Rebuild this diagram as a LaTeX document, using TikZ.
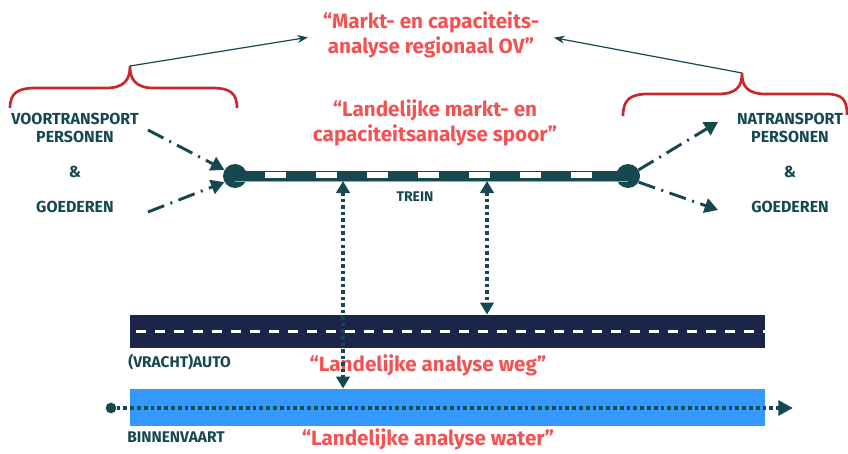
\documentclass[tikz,border=0pt]{standalone}
\usepackage{fontspec}
\setmainfont{Fira Sans}
\usetikzlibrary{arrows.meta,positioning}

\definecolor{cTeal}{RGB}{22,72,80}
\definecolor{cQuote}{RGB}{244,82,82}
\definecolor{cBrace}{RGB}{200,40,45}
\definecolor{cRoad}{RGB}{27,36,73}
\definecolor{cWater}{RGB}{51,153,255}
\definecolor{cRail}{RGB}{140,175,182}

\begin{document}
\begin{tikzpicture}[x=0.75pt,y=-0.75pt,
    lbl/.style={font={\bfseries\fontsize{12}{13}\selectfont},text=cTeal,align=center,inner sep=0pt},
    small/.style={lbl,font={\bfseries\fontsize{11.6}{13}\selectfont},anchor=west},
    quote/.style={font={\bfseries\fontsize{15.5}{19}\selectfont},text=cQuote,align=center,inner sep=0pt},
    brace/.style={cBrace,line width=2pt},
    pointer/.style={cTeal,line width=0.9pt,-{Stealth[length=8pt,width=6pt]},shorten >=11pt},
    flow/.style={cTeal,line width=2.2pt,dash pattern=on 13pt off 5pt on 1.5pt off 5pt,
        -{Triangle[length=10pt,width=11pt]}},
    link/.style={cTeal,line width=2.8pt,dash pattern=on 2.6pt off 2.3pt,
        {Triangle[length=9pt,width=10pt]}-{Triangle[length=9pt,width=10pt]}},
    stop/.style={circle,fill=cTeal,minimum size=18pt,inner sep=0pt},
    lane/.style={rectangle,minimum width=476pt,inner sep=0pt}]
\useasboundingbox (0,0) rectangle (848,453);

% titles
\node[quote] (regio) at (431,35) {“Markt- en capaciteits-\\analyse regionaal OV”};
\node[quote] (spoor) at (435,123) {“Landelijke markt- en\\capaciteitsanalyse spoor”};

% braces
\draw[brace] (10,108) .. controls (10,93) and (18,88) .. (35,88) -- (106,88)
    .. controls (124,88) and (130,80) .. (130,66) coordinate (ltip)
    .. controls (130,80) and (136,88) .. (154,88) -- (212,88)
    .. controls (230,88) and (237,93) .. (237,108);
\draw[brace] (623,116) .. controls (623,100) and (630,94) .. (648,94) -- (718,94)
    .. controls (736,94) and (742,87) .. (742,73) coordinate (rtip)
    .. controls (742,87) and (748,94) .. (766,94) -- (826,94)
    .. controls (843,94) and (847,100) .. (847,115);
\draw[pointer] (ltip) -- (regio.west);
\draw[pointer] (rtip) -- (regio.east);

% voor- en natransport
\node[lbl] (voor) at (75,128) {VOORTRANSPORT\\PERSONEN};
\node[lbl] (vamp) at (75,172) {\&};
\node[lbl] (vgoed) at (75,207) {GOEDEREN};
\node[lbl] (na) at (790,128) {NATRANSPORT\\PERSONEN};
\node[lbl] (namp) at (790,172) {\&};
\node[lbl] (ngoed) at (790,207) {GOEDEREN};

% spoor
\node[stop] (west) at (235,176) {};
\node[stop] (east) at (628,176) {};
\draw[cRail,line width=1pt] (west.center) ++(0,5) -- ++(393,0);
\draw[cTeal,line width=7.5pt] (west.center) -- (east.center);
\draw[white,line width=3.8pt,dash pattern=on 15.8pt off 22.5pt] (265,175) -- (600,175);
\node[lbl,font={\bfseries\fontsize{10.5}{12}\selectfont}] (trein) at (415,197) {TREIN};

\coordinate (va) at (148,130);
\coordinate (vb) at (148,212);
\draw[flow] (va) -- (west.150);
\draw[flow] (vb) -- (west.210);
\coordinate (nb) at (718,122);
\coordinate (nc) at (718,210);
\draw[flow] (east.30) -- (nb);
\draw[flow] (east.-30) -- (nc);

% weg
\node[lane,fill=cRoad,minimum height=25pt] (road) at (447.5,331.5) {};
\draw[white,line width=2.3pt,dash pattern=on 7.5pt off 6.75pt] (road.west) ++(6,0) -- (road.east);
\node[small] (auto) at (128,362) {(VRACHT)AUTO};
\node[quote] (weg) at (428,365) {“Landelijke analyse weg”};

% water
\node[lane,fill=cWater,minimum height=28pt] (water) at (447.5,407.5) {};
\node[circle,fill=cTeal,minimum size=8pt,inner sep=0pt] (wstart) at (111,408) {};
\coordinate (wend) at (793,408);
\draw[cTeal,line width=2.8pt,dash pattern=on 2.8pt off 2.3pt,-{Triangle[length=11pt,width=11pt]}] (wstart) -- (wend);
\node[small] (binnen) at (127,437) {BINNENVAART};
\node[quote] (wat) at (428,439) {“Landelijke analyse water”};

% koppelingen
\coordinate (ta) at (343,181);
\coordinate (tb) at (487,181);
\draw[link] (ta) -- (ta |- water.north);
\draw[link] (tb) -- (tb |- road.north);
\end{tikzpicture}
\end{document}
